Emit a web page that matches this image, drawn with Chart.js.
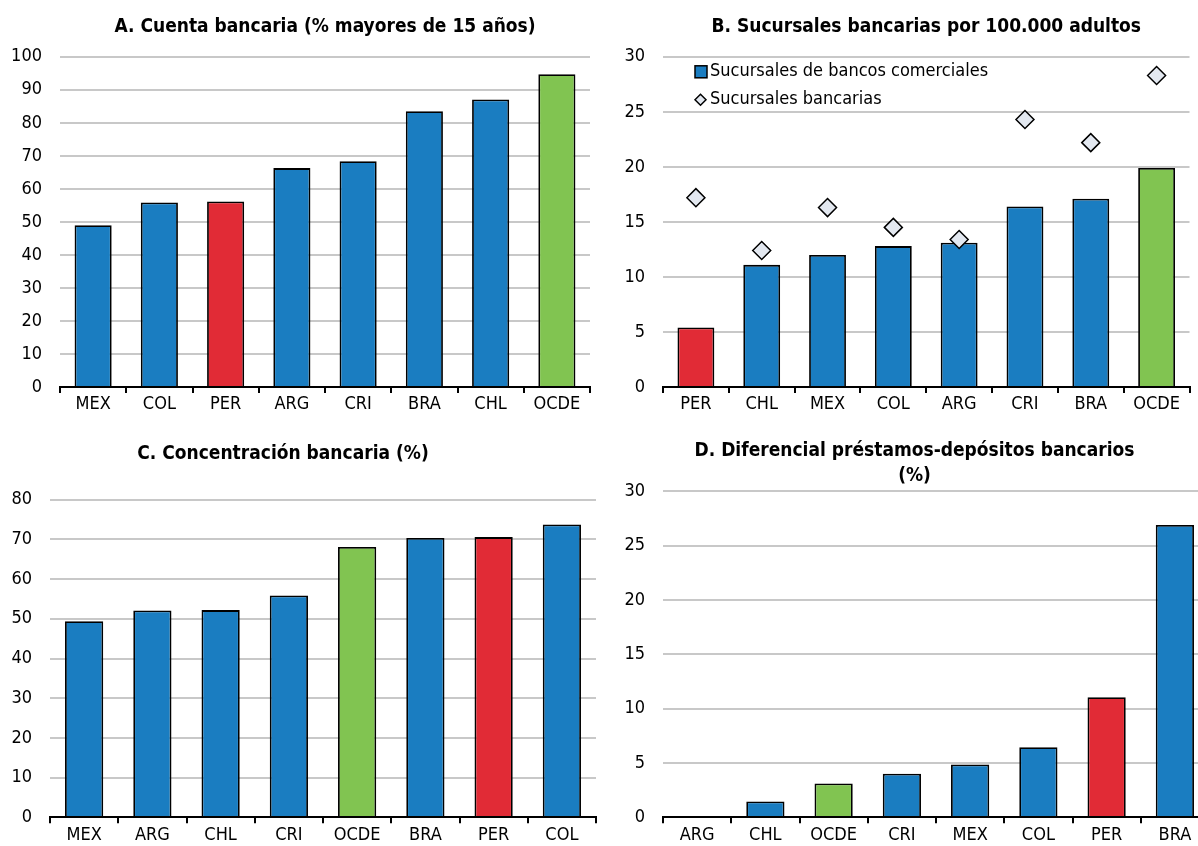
<!DOCTYPE html>
<html lang="es">
<head>
<meta charset="utf-8">
<title>Inclusión y competencia bancaria</title>
<script src="https://cdn.jsdelivr.net/npm/chart.js@4.4.1/dist/chart.umd.min.js"></script>
<style>
  html, body { margin: 0; padding: 0; background: #fff; overflow: hidden; }
  body { width: 1198px; height: 846px; position: relative; }
  canvas { position: absolute; }
</style>
</head>
<body>
<canvas id="chartA" width="600" height="420" style="left:0;top:0"></canvas>
<canvas id="chartB" width="600" height="420" style="left:600px;top:0"></canvas>
<canvas id="chartC" width="630" height="426" style="left:-30px;top:420px"></canvas>
<canvas id="chartD" width="600" height="426" style="left:620px;top:420px"></canvas>
<script>
// A. Cuenta bancaria
const catsA = ['MEX', 'COL', 'PER', 'ARG', 'CRI', 'BRA', 'CHL', 'OCDE'];
const cuentaA = [49.0, 55.9, 56.2, 66.3, 68.4, 83.5, 87.1, 94.7];

// B. Sucursales por 100.000 adultos
const catsB = ['PER', 'CHL', 'MEX', 'COL', 'ARG', 'CRI', 'BRA', 'OCDE'];
const comercialesB = [5.4, 11.1, 12.0, 12.8, 13.1, 16.4, 17.1, 19.9];
const sucursalesB = [17.2, 12.4, 16.3, 14.5, 13.4, 24.3, 22.2, 28.3];

// C. Concentración bancaria
const catsC = ['MEX', 'ARG', 'CHL', 'CRI', 'OCDE', 'BRA', 'PER', 'COL'];
const concentracionC = [49.4, 52.1, 52.2, 55.9, 68.1, 70.4, 70.6, 73.8];

// D. Diferencial préstamos-depósitos
const catsD = ['ARG', 'CHL', 'OCDE', 'CRI', 'MEX', 'COL', 'PER', 'BRA'];
const diferencialD = [0.05, 1.45, 3.1, 4.0, 4.85, 6.45, 11.05, 26.9];

const BLUE = '#1a7dc1';
const RED = '#e12b36';
const GREEN = '#81c451';
const DIAMOND = '#e3e8f0';
const FONT = "'Liberation Sans Narrow', 'Arial Narrow', 'DejaVu Sans Condensed', sans-serif";

Chart.defaults.font.family = FONT;
Chart.defaults.color = '#000';
Chart.defaults.animation = false;

function barColors(cats) {
    return cats.map(c => c === 'PER' ? RED : (c === 'OCDE' ? GREEN : BLUE));
}

function barSet(label, cats, values) {
    return {
        label: label,
        data: values,
        backgroundColor: barColors(cats),
        borderColor: '#000',
        borderWidth: 1.8,
        categoryPercentage: 1,
        barPercentage: 0.56,
        order: 1
    };
}

// leyenda dentro del área del gráfico B
const insideLegend = {
    id: 'insideLegend',
    afterDraw(chart) {
        const ctx = chart.ctx;
        const area = chart.chartArea;
        const x = area.left + 32;
        let y = area.top + 15;
        ctx.save();
        ctx.font = '18px ' + FONT;
        ctx.textBaseline = 'middle';
        chart.data.datasets.forEach(ds => {
            ctx.lineWidth = 1.5;
            ctx.strokeStyle = '#000';
            if (ds.type === 'line') {
                ctx.beginPath();
                ctx.moveTo(x, y);
                ctx.lineTo(x + 5.5, y - 5.5);
                ctx.lineTo(x + 11, y);
                ctx.lineTo(x + 5.5, y + 5.5);
                ctx.closePath();
                ctx.fillStyle = DIAMOND;
                ctx.fill();
                ctx.stroke();
            } else {
                ctx.fillStyle = BLUE;
                ctx.fillRect(x, y - 6, 12, 12);
                ctx.strokeRect(x, y - 6, 12, 12);
            }
            ctx.fillStyle = '#000';
            ctx.fillText(ds.label, x + 15, y);
            y += 28;
        });
        ctx.restore();
    }
};

function panel(id, cfg) {
    return new Chart(document.getElementById(id), {
        type: 'bar',
        data: { labels: cfg.labels, datasets: cfg.datasets },
        options: {
            responsive: false,
            layout: { padding: { right: cfg.padRight } },
            plugins: {
                legend: { display: false },
                tooltip: { enabled: false },
                title: {
                    display: true,
                    text: cfg.title,
                    fullSize: cfg.fullSize,
                    color: '#000',
                    font: { size: 19, weight: 'bold', lineHeight: cfg.titleLH || 1.2 },
                    padding: cfg.titlePad
                }
            },
            scales: {
                x: {
                    grid: { display: true, drawOnChartArea: false, drawTicks: true, tickLength: 6, offset: true, color: '#000', lineWidth: 2 },
                    border: { display: true, color: '#000', width: 2, z: 1 },
                    ticks: { padding: 1, font: { size: 18 } },
                    afterFit: s => { s.height = cfg.xHeight; }
                },
                y: {
                    min: 0,
                    max: cfg.max,
                    ticks: { stepSize: cfg.step, padding: 18, font: { size: 18 } },
                    grid: { color: '#c8c8c8', lineWidth: 2, drawTicks: false },
                    border: { display: false },
                    afterFit: s => { s.width = cfg.yWidth; }
                }
            }
        },
        plugins: cfg.plugins || []
    });
}

panel('chartA', {
    title: 'A. Cuenta bancaria (% mayores de 15 años)',
    labels: catsA,
    datasets: [barSet('Cuenta bancaria', catsA, cuentaA)],
    max: 100, step: 10,
    yWidth: 60, padRight: 10, xHeight: 33,
    fullSize: false, titlePad: { top: 16, bottom: 18 }
});

panel('chartB', {
    title: 'B. Sucursales bancarias por 100.000 adultos',
    labels: catsB,
    datasets: [
        barSet('Sucursales de bancos comerciales', catsB, comercialesB),
        {
            type: 'line',
            label: 'Sucursales bancarias',
            data: sucursalesB,
            showLine: false,
            pointStyle: 'rectRot',
            pointRadius: 9,
            pointBackgroundColor: DIAMOND,
            pointBorderColor: '#000',
            pointBorderWidth: 1.5,
            order: 0
        }
    ],
    max: 30, step: 5,
    yWidth: 63, padRight: 0, xHeight: 33,
    fullSize: false, titlePad: { top: 16, bottom: 18 },
    plugins: [insideLegend]
});

panel('chartC', {
    title: 'C. Concentración bancaria (%)',
    labels: catsC,
    datasets: [barSet('Concentración bancaria', catsC, concentracionC)],
    max: 80, step: 10,
    yWidth: 80, padRight: 4, xHeight: 26,
    fullSize: true, titlePad: { top: 23, bottom: 34 }
});

panel('chartD', {
    title: ['D. Diferencial préstamos-depósitos bancarios', '(%)'],
    labels: catsD,
    datasets: [barSet('Diferencial', catsD, diferencialD)],
    max: 30, step: 5,
    yWidth: 43, padRight: 11, xHeight: 26,
    fullSize: true, titleLH: 1.35, titlePad: { top: 18, bottom: 2 }
});
</script>
</body>
</html>
